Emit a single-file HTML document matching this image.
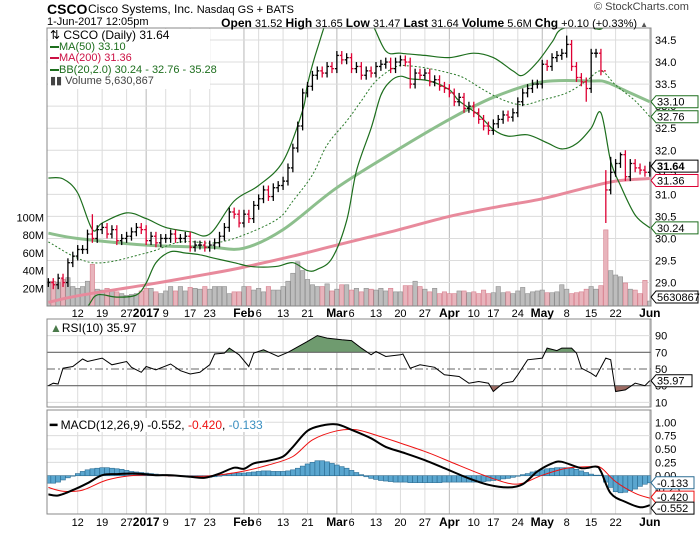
<!DOCTYPE html>
<html><head><meta charset="utf-8">
<style>
html,body{margin:0;padding:0;background:#fff;}
body{width:700px;height:530px;overflow:hidden;font-family:"Liberation Sans",sans-serif;}
svg text{font-family:"Liberation Sans",sans-serif;}
</style></head>
<body>
<svg id="chart" width="700" height="530" viewBox="0 0 700 530" xmlns="http://www.w3.org/2000/svg">
<defs>
<clipPath id="clipMain"><rect x="47" y="28" width="604" height="278"/></clipPath>
<clipPath id="clipRsi"><rect x="47" y="319" width="604" height="88"/></clipPath>
<clipPath id="clipMacd"><rect x="47" y="410" width="604" height="104"/></clipPath>
</defs>
<g id="grid"></g>
<g id="marks"></g>
<g id="labels"></g>
</svg>
<script>
// ---------- data ----------
const closes = [29.0,
28.95,29.1,29.0,29.45,29.6,
29.75,29.75,30.1,30.0,30.2,
30.25,30.1,30.2,29.95,30.0,
30.05,30.15,30.25,30.2,
29.95,30.05,29.9,30.0,
30.0,30.1,30.0,30.0,30.05,
29.8,29.85,29.85,29.8,
29.85,29.9,30.05,30.25,30.6,
30.55,30.35,
30.55,30.45,30.75,
30.9,31.1,30.95,31.15,31.2,
31.3,31.6,32.05,32.55,33.3,
33.45,33.7,33.8,33.75,
33.9,33.85,
34.15,34.05,34.1,
33.85,33.9,33.7,33.8,33.75,
33.9,33.95,34.0,33.85,34.0,
34.05,34.0,33.5,33.75,33.7,
33.75,33.55,33.6,33.45,33.4,
33.3,33.1,33.2,32.95,33.0,
32.85,32.7,32.55,32.45,
32.6,32.7,32.8,32.75,32.85,
33.1,33.3,33.4,33.5,33.5,
33.95,33.9,34.1,34.15,34.2,
34.4,33.9,33.65,33.55,33.4,
34.2,34.2,33.8,31.1,31.5,
31.7,31.9,31.4,31.7,31.6,
31.55,31.5,
31.64];
const spikeHighIdx = [9, 106, 114, 115, 117];
const spikeHighVal = [30.55, 34.6, 31.55, 31.85, 31.95];
const spikeLowIdx = [9, 110, 114, 115];
const spikeLowVal = [29.9, 33.1, 30.35, 31.0];
const volumes = [28,
28,27,30,32,22,
20,22,28,47,19,
18,20,17,16,14,
12,13,14,17,
20,20,16,14,
17,22,17,22,17,
21,20,19,22,
19,22,22,22,14,
16,16,
22,22,18,
20,16,22,18,18,
22,28,37,50,40,
30,24,22,22,
25,17,
19,24,24,
18,20,16,20,19,
18,20,17,20,16,
16,23,23,28,22,
19,16,20,14,16,
14,14,17,17,15,
16,14,18,14,
15,22,15,16,14,
17,21,14,16,17,
18,15,15,16,24,
19,14,15,16,19,
22,19,23,86,40,
35,33,26,19,18,
14,29,
5.6];
const ma200Idx = [0,6,20,33,40,50,59,70,82,92,101,110,116,123];
const ma200Val = [28.55,28.7,28.95,29.2,29.35,29.6,29.85,30.15,30.5,30.72,30.9,31.15,31.3,31.36];
const ma50Idx = [0,6,20,33,40,48,59,72,82,91,101,111,114,118,123];
const ma50Val = [30.12,30.0,29.85,29.8,29.78,30.2,31.15,32.05,32.7,33.2,33.55,33.57,33.55,33.35,33.1];
const bbUpIdx = [0,3,6,9,11,16,20,24,29,33,38,43,48,52,53,55,58,62,66,69,72,77,82,87,91,95,97,100,103,105,110,113,116,123];
const bbUpVal = [31.37,31.35,31.03,30.2,30.35,30.58,30.45,30.25,30.15,30.1,30.85,31.2,31.75,32.9,33.5,34.3,35.2,35.4,34.9,34.25,34.2,34.15,34.1,34.2,34.1,33.8,33.7,34.0,34.45,34.75,34.8,34.75,35.0,35.28];
const bbLoIdx = [0,4,8,10,14,18,20,22,25,28,31,34,38,41,44,47,50,53,55,58,61,63,66,68,70,72,74,78,82,84,88,91,94,98,102,105,108,111,113,115,117,120,123];
const bbLoVal = [27.3,27.9,28.45,28.72,28.67,28.72,28.99,29.45,29.7,29.67,29.63,29.55,29.45,29.37,29.35,29.37,29.45,29.27,29.3,29.55,30.4,31.53,32.5,33.25,33.57,33.68,33.62,33.57,33.37,33.12,32.8,32.47,32.32,32.35,32.17,32.03,32.15,32.5,32.85,31.75,31.2,30.53,30.24];
const bbMidIdx = [0,9,20,27,34,40,47,50,54,57,61,64,67,71,74,78,82,85,89,93,97,101,106,110,113,116,120,123];
const bbMidVal = [29.92,29.45,29.67,29.92,29.9,30.08,30.45,30.85,31.44,32.12,32.66,33.12,33.57,33.89,33.91,33.85,33.75,33.64,33.37,33.14,33.03,33.14,33.3,33.57,33.8,33.48,33.12,32.76];
const rsiIdx = [0,1,2,3,5,7,8,11,13,16,17,19,20,22,25,27,29,31,33,34,36,37,39,41,42,44,47,49,53,55,57,60,62,64,66,67,69,72,72.5,74,76,79,81,84,86,88,90,91,93,95,96,98,101,102,104,105,107,108,109,111,112,114,115,116,118,120,122,123];
const rsiVal = [30,33,32,51,53,62,59,63,55,59,52,46,53,49,56,48,44,46,55,68,69,75,67,53,69,73,65,70,83,90,87,85,84,75,67,71,65,67,68,51,55,52,43,41,33,35,33,23,33,35,43,61,63,75,72,75,75,69,51,45,41,63,61,23,25,33,30,36];
const macdIdx = [0,2,5,8,11,14,18,22,25,29,32,35,38,40,42,45,48,50,53,56,59,62,66,69,73,77,81,86,90,94,97,100,103,105,109,112,113,115,118,121,123];
const macdVal = [-0.35,-0.37,-0.27,-0.14,0.01,0.03,0.04,0.01,0.01,-0.02,-0.04,0.04,0.15,0.13,0.23,0.28,0.36,0.54,0.84,0.94,0.96,0.86,0.70,0.54,0.42,0.29,0.14,-0.05,-0.17,-0.22,-0.16,0.08,0.23,0.26,0.14,0.17,0.08,-0.33,-0.49,-0.59,-0.552];
const sigIdx = [0,3,7,12,18,25,32,39,45,50,54,59,63,68,72,78,83,89,94,97,101,106,111,113,116,120,123];
const sigVal = [-0.22,-0.29,-0.27,-0.08,0.01,0.0,-0.01,0.07,0.2,0.36,0.67,0.84,0.86,0.73,0.61,0.42,0.23,0.01,-0.14,-0.14,0.01,0.14,0.17,0.15,-0.11,-0.33,-0.42];
const histVal = [-0.14,
-0.14,-0.12,-0.08,-0.04,0.0,
0.04,0.08,0.11,0.13,0.14,
0.15,0.15,0.14,0.13,0.12,
0.1,0.08,0.07,0.06,
0.05,0.04,0.03,0.02,
0.01,0.0,0.0,0.0,0.0,
-0.01,-0.02,-0.03,-0.03,
-0.03,-0.02,0.0,0.02,0.04,
0.05,0.05,
0.05,0.06,0.07,
0.08,0.09,0.09,0.08,0.08,
0.08,0.09,0.11,0.14,0.18,
0.22,0.25,0.28,0.28,
0.26,0.23,
0.2,0.17,0.14,
0.1,0.06,0.02,-0.02,-0.05,
-0.07,-0.09,-0.1,-0.11,-0.12,
-0.12,-0.12,-0.13,-0.13,-0.13,
-0.13,-0.13,-0.13,-0.13,-0.12,
-0.12,-0.12,-0.12,-0.12,-0.12,
-0.12,-0.12,-0.11,-0.1,
-0.09,-0.08,-0.06,-0.05,-0.03,
-0.01,0.02,0.04,0.07,0.09,
0.11,0.13,0.14,0.15,0.15,
0.15,0.14,0.12,0.09,0.06,
0.03,0.01,0.01,-0.12,-0.22,
-0.3,-0.32,-0.31,-0.28,-0.25,
-0.2,-0.16,
-0.133];
const dateIdx = [6,11,16,20,24,29,33,40,43,48,53,59,62,67,72,77,82,87,91,96,101,106,111,116,123];
const dateLbl = ["12","19","27","2017","9","17","23","Feb","6","13","21","Mar","6","13","20","27","Apr","10","17","24","May","8","15","22","Jun"];
const dateBold = [0,0,0,1,0,0,0,1,0,0,0,1,0,0,0,0,1,0,0,0,1,0,0,0,1];
const priceTicks = [34.5,34.0,33.5,33.0,32.5,32.0,31.5,31.0,30.5,30.0,29.5,29.0];
const volTicks = [20,40,60,80,100];
const rsiTicks = [90,70,50,30,10];
const macdTicks = [1.0,0.75,0.5,0.25,0.0,-0.25];

// ---------- scales ----------
const X = i => 77.7 + (i - 6) * 4.89;
const PY = p => 40 + (34.5 - p) * 44.1;
const VY = v => 306 - v * 0.885;
const RY = v => 352.3 + (70 - v) * 0.835;
const MY = v => 475.7 - v * 53.4;
const L = 47, R = 651;

const NS = "http://www.w3.org/2000/svg";
function mk(tag, attrs, parent, text) {
  const e = document.createElementNS(NS, tag);
  for (const k in attrs) e.setAttribute(k, attrs[k]);
  if (text !== undefined) e.textContent = text;
  parent.appendChild(e);
  return e;
}
const grid = document.getElementById('grid');
const marks = document.getElementById('marks');
const labels = document.getElementById('labels');

function smoothPath(idx, val, fy) {
  const pts = idx.map((i, k) => [X(i), fy(val[k])]);
  let d = "M" + pts[0][0].toFixed(1) + "," + pts[0][1].toFixed(1);
  for (let k = 0; k < pts.length - 1; k++) {
    const p0 = pts[Math.max(0, k - 1)], p1 = pts[k], p2 = pts[k + 1], p3 = pts[Math.min(pts.length - 1, k + 2)];
    const c1 = [p1[0] + (p2[0] - p0[0]) / 6, p1[1] + (p2[1] - p0[1]) / 6];
    const c2 = [p2[0] - (p3[0] - p1[0]) / 6, p2[1] - (p3[1] - p1[1]) / 6];
    d += " C" + c1[0].toFixed(1) + "," + c1[1].toFixed(1) + " " + c2[0].toFixed(1) + "," + c2[1].toFixed(1) + " " + p2[0].toFixed(1) + "," + p2[1].toFixed(1);
  }
  return d;
}
function linePath(idx, val, fy) {
  return idx.map((i, k) => (k ? "L" : "M") + X(i).toFixed(1) + "," + fy(val[k]).toFixed(1)).join(" ");
}

// ---------- panels & grid ----------
const panels = [[28, 306], [319, 407], [410, 514]];
panels.forEach(([t, b], pi) => {
  dateIdx.forEach((di, k) => {
    const gl = mk('line', {x1: X(di), x2: X(di), y1: t, y2: b, stroke: dateBold[k] ? '#b8b8b8' : '#dcdcdc', 'stroke-width': 1}, grid);
    
    
  });
});
priceTicks.forEach(p => {
  const gl = mk('line', {x1: L, x2: R, y1: PY(p), y2: PY(p), stroke: '#dcdcdc'}, grid);
  
  
  const t = mk('text', {x: 655, y: PY(p) + 4, 'font-size': 11, fill: '#000'}, labels, p.toFixed(1));
  
  
});
volTicks.forEach(v => {
  const t = mk('text', {x: 44, y: VY(v) + 4, 'font-size': 11, 'text-anchor': 'end'}, labels, v + 'M');
  
  
});
rsiTicks.forEach(v => {
  const t = mk('text', {x: 655, y: RY(v) + 4, 'font-size': 11}, labels, String(v));
  
  
  if (v === 90 || v === 10) {
    const gl = mk('line', {x1: L, x2: R, y1: RY(v), y2: RY(v), stroke: '#dcdcdc'}, grid);
    
    
  }
});
macdTicks.forEach(v => {
  const t = mk('text', {x: 655, y: MY(v) + 4, 'font-size': 11}, labels, v.toFixed(2));
  
  
  const gl = mk('line', {x1: L, x2: R, y1: MY(v), y2: MY(v), stroke: '#dcdcdc'}, grid);
  
  
});
panels.forEach(([t, b]) => {
  const r = mk('rect', {x: L, y: t, width: R - L, height: b - t, fill: 'none', stroke: '#888'}, labels);
  
  
});
[[313], [522]].forEach(([yy]) => {
  dateIdx.forEach((di, k) => {
    const t = mk('text', {x: X(di), y: yy + 4, 'font-size': dateBold[k] ? 12 : 11, 'font-weight': dateBold[k] ? 'bold' : 'normal', 'text-anchor': 'middle'}, labels, dateLbl[k]);
    
    
  });
});

// ---------- main panel ----------
const gMain = mk('g', {'clip-path': 'url(#clipMain)'}, marks);


volumes.forEach((v, i) => {
  const down = i > 0 && closes[i] < closes[i - 1];
  const b = mk('rect', {x: X(i) - 2.2, y: VY(v), width: 4.4, height: 306 - VY(v), fill: down ? '#e8b4bc' : '#bdbdbd', stroke: down ? '#d77f8d' : '#8f8f8f', 'stroke-width': 0.6}, gMain);
  
  
});
const ma200 = mk('path', {d: smoothPath(ma200Idx, ma200Val, PY), fill: 'none', stroke: '#e88a9c', 'stroke-width': 3}, gMain);


const ma50 = mk('path', {d: smoothPath(ma50Idx, ma50Val, PY), fill: 'none', stroke: '#8dbf8d', 'stroke-width': 3}, gMain);


const bbu = mk('path', {d: smoothPath(bbUpIdx, bbUpVal, PY), fill: 'none', stroke: '#1d6e1d', 'stroke-width': 1.2}, gMain);


const bbl = mk('path', {d: smoothPath(bbLoIdx, bbLoVal, PY), fill: 'none', stroke: '#1d6e1d', 'stroke-width': 1.2}, gMain);


const bbm = mk('path', {d: smoothPath(bbMidIdx, bbMidVal, PY), fill: 'none', stroke: '#2a7a2a', 'stroke-width': 1, 'stroke-dasharray': '2,2'}, gMain);


closes.forEach((c, i) => {
  const o = i > 0 ? closes[i - 1] : c;
  let hi = Math.max(o, c) + 0.1, lo = Math.min(o, c) - 0.1;
  const hk = spikeHighIdx.indexOf(i); if (hk >= 0) hi = spikeHighVal[hk];
  const lk = spikeLowIdx.indexOf(i); if (lk >= 0) lo = spikeLowVal[lk];
  const down = i > 0 && c < closes[i - 1];
  const col = down ? '#dd0033' : '#000';
  const g = mk('g', {stroke: col, 'stroke-width': 1.3}, gMain);
  
  
  const x = X(i);
  mk('line', {x1: x, x2: x, y1: PY(hi), y2: PY(lo)}, g);
  mk('line', {x1: x - 2, x2: x, y1: PY(o), y2: PY(o)}, g);
  mk('line', {x1: x, x2: x + 2, y1: PY(c), y2: PY(c)}, g);
});
const lastMark = mk('rect', {x: X(123) + 1, y: PY(31.64) - 5, width: 5, height: 9, fill: '#f5f03a'}, gMain);



// right tags
function tag(yv, txt, col, bold, name) {
  const g = mk('g', {}, labels);
  
  
  mk('path', {d: `M651,${yv} l5,-6 h42 v12 h-42 z`, fill: '#fff', stroke: col, 'stroke-width': 1}, g);
  mk('text', {x: 657, y: yv + 4, 'font-size': 11, fill: '#000', 'font-weight': bold ? 'bold' : 'normal'}, g, txt);
}
tag(PY(33.10), '33.10', '#1d6e1d', 0, 'ma50-value-tag');
tag(PY(32.76), '32.76', '#1d6e1d', 0, 'bb-middle-value-tag');
tag(PY(31.64), '31.64', '#000', 1, 'last-price-tag');
tag(PY(31.36) + 2, '31.36', '#dd0033', 0, 'ma200-value-tag');
tag(PY(30.24), '30.24', '#1d6e1d', 0, 'bb-lower-value-tag');
tag(VY(5.6) - 4, '5630867', '#000', 0, 'volume-value-tag');

// ---------- RSI ----------
const gR = mk('g', {'clip-path': 'url(#clipRsi)'}, marks);


const rsiD = linePath(rsiIdx, rsiVal, RY);
const areaD = rsiD + ` L${X(rsiIdx[rsiIdx.length-1])},${RY(50)} L${X(rsiIdx[0])},${RY(50)} Z`;
const cpHi = mk('clipPath', {id: 'above70'}, gR);
mk('rect', {x: L, y: 319, width: R - L, height: RY(70) - 319}, cpHi);
const fillHi = mk('path', {d: areaD, fill: '#6f9b6f', 'clip-path': 'url(#above70)'}, gR);


const cpLo = mk('clipPath', {id: 'below30'}, gR);
mk('rect', {x: L, y: RY(30), width: R - L, height: 407 - RY(30)}, cpLo);
const fillLo = mk('path', {d: areaD, fill: '#9e6b63', 'clip-path': 'url(#below30)'}, gR);


[70, 30].forEach(v => {
  const l = mk('line', {x1: L, x2: R, y1: RY(v), y2: RY(v), stroke: '#666', 'stroke-width': 1.2}, gR);
  
  
});
const l50 = mk('line', {x1: L, x2: R, y1: RY(50), y2: RY(50), stroke: '#666', 'stroke-dasharray': '8,3,2,3'}, gR);


const rl = mk('path', {d: rsiD, fill: 'none', stroke: '#000', 'stroke-width': 1}, gR);


{
  const g = mk('g', {}, labels);
  
  
  const yv = RY(35.97);
  mk('path', {d: `M651,${yv} l5,-6 h36 v12 h-36 z`, fill: '#fff', stroke: '#000'}, g);
  mk('text', {x: 657, y: yv + 4, 'font-size': 11}, g, '35.97');
}

// ---------- MACD ----------
const gM = mk('g', {'clip-path': 'url(#clipMacd)'}, marks);


histVal.forEach((v, i) => {
  const y0 = MY(0), y1 = MY(v);
  const b = mk('rect', {x: X(i) - 2.4, y: Math.min(y0, y1), width: 4.8, height: Math.max(0.5, Math.abs(y1 - y0)), fill: '#5aa6cf', stroke: '#2c6d93', 'stroke-width': 0.6}, gM);
  
  
});
const sl = mk('path', {d: smoothPath(sigIdx, sigVal, MY), fill: 'none', stroke: '#ee1111', 'stroke-width': 1}, gM);


const ml = mk('path', {d: smoothPath(macdIdx, macdVal, MY), fill: 'none', stroke: '#000', 'stroke-width': 2}, gM);


function mtag(yv, txt, col, name) {
  const g = mk('g', {}, labels);
  
  
  mk('path', {d: `M651,${yv} l5,-6 h38 v12 h-38 z`, fill: '#fff', stroke: col}, g);
  mk('text', {x: 657, y: yv + 4, 'font-size': 11}, g, txt);
}
mtag(MY(-0.133), '-0.133', '#2c6d93', 'histogram-value-tag');
mtag(MY(-0.42) - 1, '-0.420', '#ee1111', 'signal-value-tag');
mtag(MY(-0.552) + 3, '-0.552', '#000', 'macd-value-tag');
</script>

<div style="position:absolute;left:0;top:0;width:700px;height:28px;font-family:'Liberation Sans',sans-serif;">
  <span style="position:absolute;left:47px;top:1px;font-size:14px;font-weight:bold;">CSCO</span>
  <span style="position:absolute;left:88px;top:2px;font-size:12px;">Cisco Systems, Inc. <span style="font-size:11px">Nasdaq GS + BATS</span></span>
  <span style="position:absolute;left:47px;top:16px;font-size:11px;">1-Jun-2017 12:05pm</span>
  <span style="position:absolute;left:594px;top:1px;font-size:11px;color:#444;">© StockCharts.com</span>
  <span style="position:absolute;right:52px;top:16px;font-size:11px;white-space:nowrap;"><b style="font-size:12px">Open</b> 31.52 <b style="font-size:12px">High</b> 31.65 <b style="font-size:12px">Low</b> 31.47 <b style="font-size:12px">Last</b> 31.64 <b style="font-size:12px">Volume</b> 5.6M <b style="font-size:12px">Chg</b> +0.10 (+0.33%) <span style="font-size:8px;color:#555">▲</span></span>
</div>
<div style="position:absolute;left:48px;top:29px;width:158px;white-space:nowrap;background:#fff;font-family:'Liberation Sans',sans-serif;font-size:11px;line-height:11.5px;padding:1px 2px;">
  <div style="font-size:12px;">⇅ CSCO (Daily) 31.64</div>
  <div style="color:#1d6e1d"><span style="display:inline-block;width:9px;height:2px;background:#1d6e1d;vertical-align:middle"></span>MA(50) 33.10</div>
  <div style="color:#cc1144"><span style="display:inline-block;width:9px;height:2px;background:#cc1144;vertical-align:middle"></span>MA(200) 31.36</div>
  <div style="color:#1d6e1d;background:#fff;display:inline-block;"><span style="display:inline-block;width:9px;height:2px;background:#1d6e1d;vertical-align:middle"></span>BB(20,2.0) 30.24 - 32.76 - 35.28</div>
  <div style="color:#444">▮▮ Volume 5,630,867</div>
</div>
<div style="position:absolute;left:48px;top:321px;background:#fff;font-family:'Liberation Sans',sans-serif;font-size:12px;padding:0 2px;"><span style="color:#4a7a4a">▲</span>RSI(10) 35.97</div>
<div style="position:absolute;left:48px;top:418px;background:#fff;font-family:'Liberation Sans',sans-serif;font-size:12px;padding:0 2px;"><b>━</b> MACD(12,26,9) -0.552, <span style="color:#ee1111">-0.420</span>, <span style="color:#3a8fc0">-0.133</span></div>
</body></html>
